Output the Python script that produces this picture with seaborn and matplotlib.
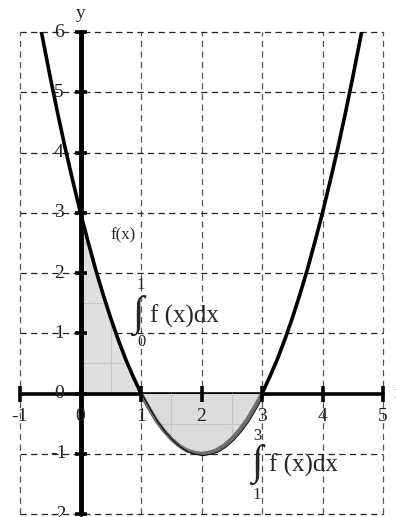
import matplotlib
matplotlib.use("Agg")
import matplotlib.pyplot as plt
import seaborn as sns
import pandas as pd

# curve values
curve_x = [-0.65, -0.5, -0.375, -0.25, -0.125, 0, 0.125, 0.25, 0.375, 0.5, 0.625,
           0.75, 0.875, 1, 1.125, 1.25, 1.375, 1.5, 1.625, 1.75, 1.875, 2,
           2.125, 2.25, 2.375, 2.5, 2.625, 2.75, 2.875, 3, 3.125, 3.25, 3.375,
           3.5, 3.625, 3.75, 3.875, 4, 4.125, 4.25, 4.375, 4.5, 4.65]
curve_y = [6.02, 5.25, 4.64, 4.06, 3.52, 3.0, 2.52, 2.06, 1.64, 1.25, 0.89,
           0.56, 0.27, 0.0, -0.23, -0.44, -0.61, -0.75, -0.86, -0.94, -0.98, -1.0,
           -0.98, -0.94, -0.86, -0.75, -0.61, -0.44, -0.23, 0.0, 0.27, 0.56, 0.89,
           1.25, 1.64, 2.06, 2.52, 3.0, 3.52, 4.06, 4.64, 5.25, 6.02]
x_ticks = [-1, 0, 1, 2, 3, 4, 5]
y_ticks = [-2, -1, 0, 1, 2, 3, 4, 5, 6]
minor_x = [0.5, 1.5, 2.5]
minor_y = [-0.5, 0.5, 1.5, 2.5]

df = pd.DataFrame({"x": curve_x, "y": curve_y})
left = df[(df.x >= 0) & (df.x <= 1)]
mid = df[(df.x >= 1) & (df.x <= 3)]

sns.set_theme(style="white")
plt.rcParams["font.family"] = ["Liberation Serif", "DejaVu Serif"]

fig = plt.figure(figsize=(3.96, 5.17), dpi=100)
ax = fig.add_axes([0.0505, 0.0058, 0.9167, 0.9322])
ax.set_xlim(-1, 5)
ax.set_ylim(-2, 6)
ax.axis("off")

# dashed grid
dash = (0, (5, 3.5))
ax.vlines(x_ticks, -2, 6, colors="#555555", linestyles=[dash], lw=0.9, clip_on=False)
ax.hlines(y_ticks, -1, 5, colors="#222222", linestyles=[dash], lw=0.9, clip_on=False)

# the function
sns.lineplot(data=df, x="x", y="y", color="black", lw=2.6, ax=ax, zorder=5,
             sort=False)
ax.set_xlabel("")
ax.set_ylabel("")

# shaded areas
p1 = ax.fill_between(left.x, left.y, 0, color="#e0e0e0", lw=0, zorder=2)
p2 = ax.fill_between(mid.x, mid.y, 0, color="#dcdcdc", lw=0, zorder=6)
for p, z in ((p1, 2.5), (p2, 6.5)):
    path = p.get_paths()[0]
    vl = ax.vlines(minor_x, -2, 6, colors="#c4c4c4", lw=0.8, zorder=z)
    hl = ax.hlines(minor_y, -1, 5, colors="#c4c4c4", lw=0.8, zorder=z)
    vl.set_clip_path(path, ax.transData)
    hl.set_clip_path(path, ax.transData)
ax.plot(mid.x, mid.y, color="#6e6e6e", lw=2.8, zorder=7)
ax.plot(mid.x + 0.03, mid.y - 0.03, color="black", lw=0.7, zorder=7)
ax.plot([0, 1], [0, 0], color="#888888", lw=1.5, zorder=3)

# axes lines with tick marks
ax.plot([-1, 5], [0, 0], color="black", lw=2.6, zorder=4, clip_on=False)
ax.plot([0, 0], [-2, 6], color="black", lw=3.5, zorder=4, clip_on=False)
ax.plot(x_ticks, [0] * len(x_ticks), ls="none", marker="|", ms=11, mew=2.6,
        color="black", zorder=8, clip_on=False)
ax.plot([0] * len(y_ticks), y_ticks, ls="none", marker="_", ms=9, mew=2.6,
        color="black", zorder=4, clip_on=False)

# tick labels
for v in x_ticks:
    ax.text(v, -0.38, str(v), ha="center", va="center", fontsize=14,
            color="#222222", zorder=9)
for v in y_ticks:
    ax.text(-0.36, v, str(v), ha="center", va="center", fontsize=14,
            color="#222222", zorder=9)
ax.text(0, 6.3, "y", ha="center", va="center", fontsize=14)
ax.text(5.2, 0.0, "x", ha="left", va="center", fontsize=14, clip_on=False)

# labels
ax.text(0.71, 2.62, "f(x)", ha="center", va="center", fontsize=12)
ax.text(0.94, 1.3, "\u222b", ha="center", va="center", fontsize=30)
ax.text(1.0, 1.8, "1", ha="center", va="center", fontsize=12)
ax.text(1.0, 0.85, "0", ha="center", va="center", fontsize=12)
ax.text(1.15, 1.28, "f (x)dx", ha="left", va="center", fontsize=18)
ax.text(2.91, -1.17, "\u222b", ha="center", va="center", fontsize=30, zorder=9)
ax.text(2.92, -0.71, "3", ha="center", va="center", fontsize=12, zorder=9)
ax.text(2.92, -1.69, "1", ha="center", va="center", fontsize=12)
ax.text(3.12, -1.19, "f (x)dx", ha="left", va="center", fontsize=18)

fig.savefig("out.png", dpi=100)
